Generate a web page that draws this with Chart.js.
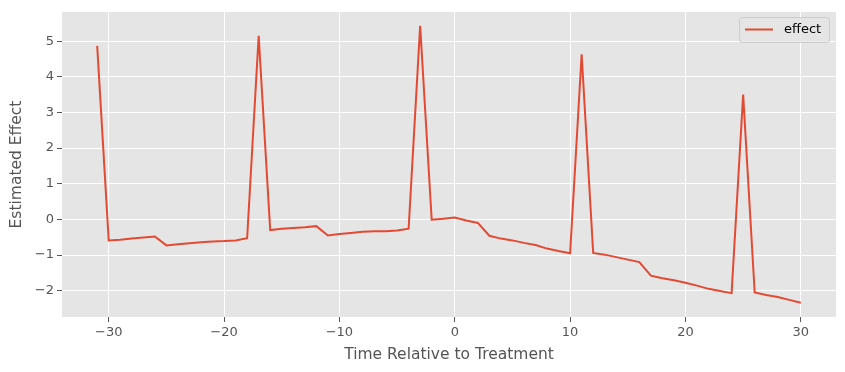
<!DOCTYPE html>
<html>
<head>
<meta charset="utf-8">
<script src="https://cdn.jsdelivr.net/npm/chart.js@4/dist/chart.umd.min.js"></script>
<style>
    html, body { margin: 0; padding: 0; background: #ffffff; }
    #wrap { width: 845px; height: 372px; position: relative; }
</style>
</head>
<body>
<div id="wrap"><canvas id="effectChart"></canvas></div>
<script>
// event time, relative to treatment
const periods = [-31, -30, -29, -28, -27, -26, -25, -24, -23, -22, -21, -20, -19, -18, -17, -16,
    -15, -14, -13, -12, -11, -10, -9, -8, -7, -6, -5, -4, -3, -2, -1, 0,
    1, 2, 3, 4, 5, 6, 7, 8, 9, 10, 11, 12, 13, 14, 15, 16,
    17, 18, 19, 20, 21, 22, 23, 24, 25, 26, 27, 28, 29, 30];

// estimated effect per period
const effects = [4.87, -0.59, -0.57, -0.54, -0.51, -0.48, -0.73, -0.70, -0.67, -0.64, -0.62, -0.61, -0.59, -0.53, 5.15, -0.30,
    -0.26, -0.24, -0.22, -0.19, -0.45, -0.41, -0.38, -0.35, -0.33, -0.33, -0.31, -0.26, 5.43, -0.01, 0.02, 0.05,
    -0.03, -0.10, -0.46, -0.54, -0.59, -0.66, -0.72, -0.82, -0.89, -0.95, 4.63, -0.94, -0.99, -1.06, -1.13, -1.20,
    -1.58, -1.65, -1.71, -1.78, -1.86, -1.95, -2.01, -2.07, 3.50, -2.05, -2.12, -2.18, -2.26, -2.34];

const xTicks = [-30, -20, -10, 0, 10, 20, 30];
const yTicks = [-2, -1, 0, 1, 2, 3, 4, 5];
const seriesName = 'effect';

const lineColor = '#E24A33';
const textGray = '#555555';

function fmt(v) {
    return v < 0 ? '\u2212' + Math.abs(v) : String(v);
}

// matplotlib style legend box inside the plot, top right
const legendBox = {
    id: 'legendBox',
    afterDraw(chart) {
        const ctx = chart.ctx;
        const area = chart.chartArea;
        const w = 90, h = 25;
        const x = area.right - 7 - w, y = area.top + 5;
        ctx.save();
        ctx.beginPath();
        ctx.roundRect(x + 0.5, y + 0.5, w, h, 3);
        ctx.fillStyle = 'rgba(229,229,229,0.8)';
        ctx.fill();
        ctx.strokeStyle = '#cccccc';
        ctx.lineWidth = 1;
        ctx.stroke();
        ctx.beginPath();
        ctx.moveTo(x + 6, y + h / 2);
        ctx.lineTo(x + 34, y + h / 2);
        ctx.strokeStyle = lineColor;
        ctx.lineWidth = 2;
        ctx.stroke();
        ctx.fillStyle = '#000000';
        ctx.font = '13px "DejaVu Sans"';
        ctx.textBaseline = 'middle';
        ctx.fillText(seriesName, x + 45, y + h / 2 + 0.5);
        ctx.restore();
    }
};

const ctx = document.getElementById('effectChart');
new Chart(ctx, {
    type: 'line',
    data: {
        datasets: [{
            label: seriesName,
            data: periods.map((p, i) => ({ x: p, y: effects[i] })),
            borderColor: lineColor,
            backgroundColor: lineColor,
            borderWidth: 2,
            pointRadius: 0,
            tension: 0
        }]
    },
    options: {
        responsive: true,
        maintainAspectRatio: false,
        animation: false,
        layout: { padding: { left: 8, right: 9, top: 12, bottom: 8 } },
        plugins: {
            legend: { display: false },
            tooltip: { enabled: false }
        },
        scales: {
            x: {
                type: 'linear',
                min: -34.05,
                max: 33.05,
                afterBuildTicks: scale => { scale.ticks = xTicks.map(v => ({ value: v })); },
                afterFit: scale => { scale.height = 47; },
                grid: { color: '#ffffff', lineWidth: 1, tickColor: textGray, tickLength: 5 },
                border: { display: false },
                ticks: {
                    color: textGray,
                    font: { family: 'DejaVu Sans', size: 13 },
                    padding: 3,
                    maxRotation: 0,
                    callback: v => fmt(v)
                },
                title: {
                    display: true,
                    text: 'Time Relative to Treatment',
                    color: textGray,
                    font: { family: 'DejaVu Sans', size: 15.5 },
                    padding: { top: 2, bottom: 0 }
                }
            },
            y: {
                min: -2.74,
                max: 5.82,
                afterBuildTicks: scale => { scale.ticks = yTicks.map(v => ({ value: v })); },
                afterFit: scale => { scale.width = 54; },
                grid: { color: '#ffffff', lineWidth: 1, tickColor: textGray, tickLength: 5 },
                border: { display: false },
                ticks: {
                    color: textGray,
                    font: { family: 'DejaVu Sans', size: 13 },
                    padding: 3,
                    callback: v => fmt(v)
                },
                title: {
                    display: true,
                    text: 'Estimated Effect',
                    color: textGray,
                    font: { family: 'DejaVu Sans', size: 15.5 },
                    padding: { top: 0, bottom: 2 }
                }
            }
        }
    },
    plugins: [{
        id: 'plotBg',
        beforeDraw(chart) {
            const a = chart.chartArea;
            chart.ctx.save();
            chart.ctx.fillStyle = '#E5E5E5';
            chart.ctx.fillRect(a.left, a.top, a.right - a.left, a.bottom - a.top);
            chart.ctx.restore();
        }
    }, legendBox]
});
</script>
</body>
</html>
